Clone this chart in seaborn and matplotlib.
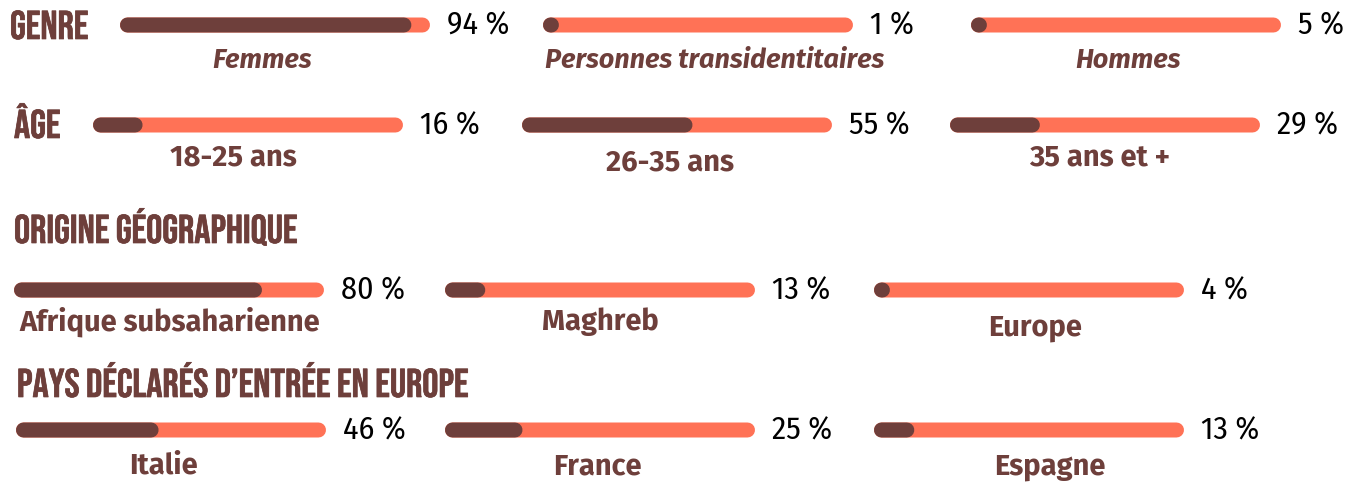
import matplotlib
matplotlib.use("Agg")
import matplotlib.pyplot as plt
import matplotlib.patheffects as pe
import seaborn as sns
import pandas as pd

# ---------------- data ----------------
section_titles = ["GENRE", "ÂGE", "ORIGINE GÉOGRAPHIQUE", "PAYS DÉCLARÉS D’ENTRÉE EN EUROPE"]

genre_labels = ["Femmes", "Personnes transidentitaires", "Hommes"]
genre_values = [94, 1, 5]

age_labels = ["18-25 ans", "26-35 ans", "35 ans et +"]
age_values = [16, 55, 29]

origin_labels = ["Afrique subsaharienne", "Maghreb", "Europe"]
origin_values = [80, 13, 4]

entry_labels = ["Italie", "France", "Espagne"]
entry_values = [46, 25, 13]

# ---------------- style ----------------
DARK = "#6E3F3B"
ORANGE = "#FF7256"
W, H = 1357, 482
BAR_LEN = 310
BAR_THICK = 15  # px

sns.set_theme(style="white")
plt.rcParams["font.family"] = ["Fira Sans", "DejaVu Sans"]

fig = plt.figure(figsize=(W / 100, H / 100), dpi=100)
fig.patch.set_facecolor("white")

# layout in pixels (layout only, not data)
rows = [
    dict(labels=genre_labels, values=genre_values, y=25,
         bar_x=[120, 543, 971], lab_x=[262, 715, 1128], lab_y=[60, 60, 60], italic=True),
    dict(labels=age_labels, values=age_values, y=125,
         bar_x=[93, 522, 950], lab_x=[233, 670, 1100], lab_y=[158, 163, 158], italic=False),
    dict(labels=origin_labels, values=origin_values, y=290,
         bar_x=[14, 445, 874], lab_x=[170, 600, 1035], lab_y=[322, 322, 328], italic=False),
    dict(labels=entry_labels, values=entry_values, y=430,
         bar_x=[16, 445, 874], lab_x=[163, 597, 1050], lab_y=[466, 467, 467], italic=False),
]
title_pos = [(10, 39), (14, 138), (14, 243), (17, 397)]  # baselines


def fx(px):
    return px / W


def fy(py):
    return 1 - py / H


lw_pt = BAR_THICK * 72 / 100
cap = (BAR_THICK / 2) / BAR_LEN * 100  # round-cap radius in data units (0..100 scale)

for row in rows:
    for x0, lab, val, lx, ly in zip(row["bar_x"], row["labels"], row["values"],
                                     row["lab_x"], row["lab_y"]):
        ax = fig.add_axes([fx(x0), fy(row["y"] + 10), fx(BAR_LEN), 20 / H])
        df_bg = pd.DataFrame({"x": [cap, 100 - cap], "y": [0, 0]})
        df_fg = pd.DataFrame({"x": [cap, max(cap + 0.3, val - cap)], "y": [0, 0]})
        sns.lineplot(data=df_bg, x="x", y="y", ax=ax, color=ORANGE, linewidth=lw_pt,
                     solid_capstyle="round", clip_on=False, snap=False)
        sns.lineplot(data=df_fg, x="x", y="y", ax=ax, color=DARK, linewidth=lw_pt,
                     solid_capstyle="round", clip_on=False, snap=False)
        ax.set_xlim(0, 100)
        ax.set_ylim(-1, 1)
        ax.axis("off")
        # value text
        fig.text(fx(x0 + BAR_LEN + 17), fy(row["y"] + 1), f"{val} %",
                 family=["Fira Sans Condensed", "DejaVu Sans"], fontsize=23,
                 color="black", ha="left", va="center")
        # category label
        fig.text(fx(lx), fy(ly), lab, family=["Fira Sans", "DejaVu Sans"],
                 fontsize=19.5 if row["italic"] else 21, fontweight="bold",
                 style="italic" if row["italic"] else "normal",
                 color=DARK, ha="center", va="center")

for t, (tx, ty) in zip(section_titles, title_pos):
    fig.text(fx(tx), fy(ty), t, family=["Bebas Neue", "DejaVu Sans"], fontsize=29,
             color=DARK, ha="left", va="baseline",
             path_effects=[pe.withStroke(linewidth=0.5, foreground=DARK)])

fig.savefig("out.png", dpi=100, facecolor="white")
